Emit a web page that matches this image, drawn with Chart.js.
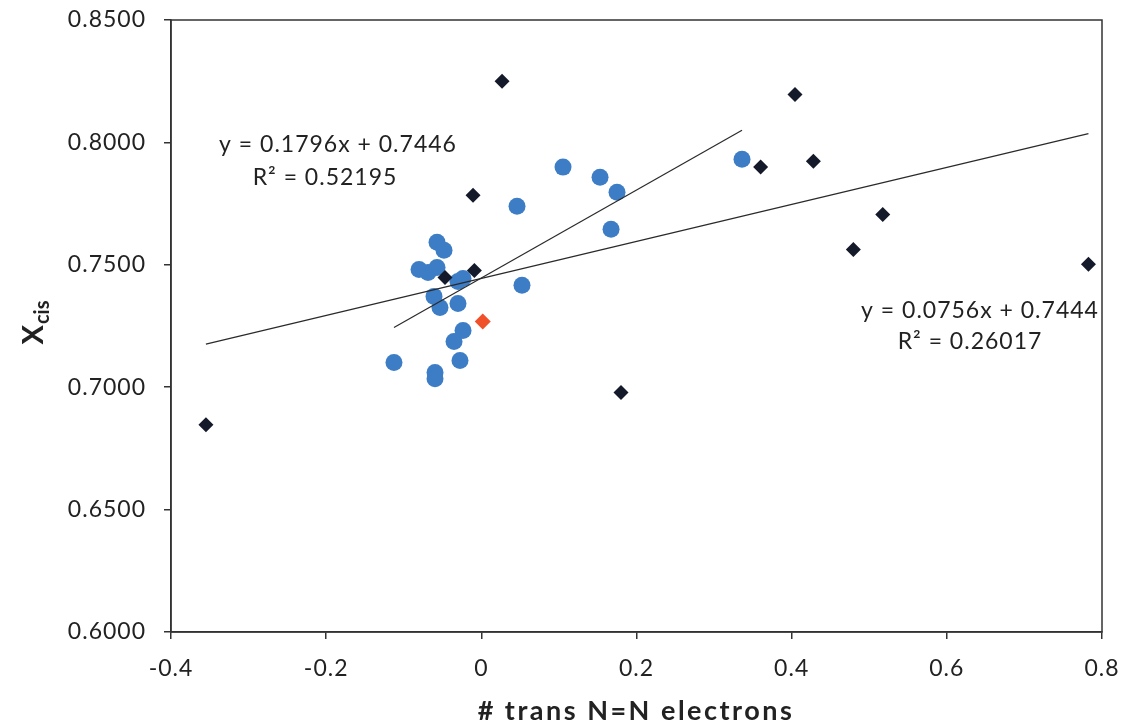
<!DOCTYPE html>
<html>
<head>
<meta charset="utf-8">
<script src="https://cdn.jsdelivr.net/npm/chart.js@4/dist/chart.umd.min.js"></script>
<style>
html,body{margin:0;padding:0;background:#fff;}
#wrap{width:1123px;height:727px;position:relative;}
</style>
</head>
<body>
<div id="wrap"><canvas id="c" width="1123" height="727"></canvas></div>
<script>
// ---- data ----
const blackX = [-0.355, 0.0267, -0.0107, -0.009, -0.0468, 0.360, 0.4043, 0.428, 0.4795, 0.5174, 0.7825, 0.180];
const blackY = [0.6847, 0.8250, 0.7784, 0.7477, 0.7448, 0.7900, 0.8196, 0.7923, 0.7563, 0.7705, 0.7502, 0.6978];
const redX = [0.0018];
const redY = [0.7268];
const blueX = [-0.0571, -0.0481, -0.0803, -0.0687, -0.0571, -0.0301, -0.0236, -0.0610, -0.0533, -0.0301, 0.0524, -0.0236, -0.0352, -0.0275, -0.1126, -0.0597, -0.0597, 0.0460, 0.1053, 0.1530, 0.1749, 0.1672, 0.3360];
const blueY = [0.7592, 0.7559, 0.7481, 0.7469, 0.7489, 0.7432, 0.7444, 0.7371, 0.7326, 0.7342, 0.7416, 0.7232, 0.7187, 0.7109, 0.7101, 0.7060, 0.7035, 0.7739, 0.7899, 0.7858, 0.7796, 0.7645, 0.7931];
const blueFit = {slope: 0.1796, intercept: 0.7446, label1: "y = 0.1796x + 0.7446", label2: "R² = 0.52195"};
const blackFit = {slope: 0.0756, intercept: 0.7444, label1: "y = 0.0756x + 0.7444", label2: "R² = 0.26017"};
const xTicks = [-0.4, -0.2, 0, 0.2, 0.4, 0.6, 0.8];
const yTicks = [0.60, 0.65, 0.70, 0.75, 0.80, 0.85];
const xTitle = "# trans N=N electrons";
const yTitleMain = "X";
const yTitleSub = "cis";

const pts = (xs, ys) => xs.map((x, i) => ({x: x, y: ys[i]}));
const fitLine = (f, xs) => {
  const a = Math.min(...xs), b = Math.max(...xs);
  return [{x: a, y: f.slope * a + f.intercept}, {x: b, y: f.slope * b + f.intercept}];
};

const FONT = "Lato, 'Open Sans', sans-serif";
const LEFT = 171;

const decor = {
  id: 'decor',
  beforeInit(chart) { chart.ctx.letterSpacing = '1px'; },
  beforeDraw(chart) { chart.ctx.letterSpacing = '1px'; },
  afterDatasetsDraw(chart) {
    const ctx = chart.ctx, ca = chart.chartArea;
    ctx.save();
    ctx.strokeStyle = '#333';
    ctx.lineWidth = 1.5;
    ctx.strokeRect(ca.left, ca.top, ca.right - ca.left, ca.bottom - ca.top);
    ctx.restore();
  },
  afterDraw(chart) {
    const ctx = chart.ctx;
    ctx.save();
    ctx.fillStyle = '#222';
    ctx.letterSpacing = '1px';
    ctx.font = "23px " + FONT;
    ctx.textAlign = 'center';
    ctx.textBaseline = 'middle';
    ctx.fillText(blueFit.label1, 338, 145);
    ctx.fillText(blueFit.label2, 325, 178);
    ctx.fillText(blackFit.label1, 980, 311);
    ctx.fillText(blackFit.label2, 970, 342);
    ctx.letterSpacing = '2.5px';
    ctx.font = "bold 27px " + FONT;
    ctx.fillText(xTitle, 636, 711);
    ctx.letterSpacing = '0px';
    ctx.translate(33, 323);
    ctx.rotate(-Math.PI / 2);
    ctx.font = "bold 29px " + FONT;
    const w1 = ctx.measureText(yTitleMain).width;
    ctx.font = "bold 20px " + FONT;
    const w2 = ctx.measureText(yTitleSub).width;
    const start = -(w1 + w2) / 2;
    ctx.textAlign = 'left';
    ctx.textBaseline = 'alphabetic';
    ctx.font = "bold 29px " + FONT;
    ctx.fillText(yTitleMain, start, 10);
    ctx.font = "bold 20px " + FONT;
    ctx.fillText(yTitleSub, start + w1 + 1, 16);
    ctx.restore();
  }
};

const zeroPad = s => { s.paddingTop = 0; s.paddingBottom = 0; s.paddingLeft = 0; s.paddingRight = 0; };

new Chart(document.getElementById('c'), {
  type: 'scatter',
  data: {
    datasets: [
      {label: 'fit blue', data: fitLine(blueFit, blueX), showLine: true, pointRadius: 0, borderColor: '#2a2a2a', borderWidth: 1.2, order: 0},
      {label: 'fit black', data: fitLine(blackFit, blackX), showLine: true, pointRadius: 0, borderColor: '#2a2a2a', borderWidth: 1.2, order: 0},
      {label: 'blue', data: pts(blueX, blueY), pointStyle: 'circle', pointRadius: 8.5, backgroundColor: '#3d7dc6', borderColor: '#3d7dc6', borderWidth: 0, order: 2},
      {label: 'black', data: pts(blackX, blackY), pointStyle: 'rectRot', pointRadius: 7.5, backgroundColor: '#141a2a', borderColor: '#141a2a', borderWidth: 0, order: 1},
      {label: 'red', data: pts(redX, redY), pointStyle: 'rectRot', pointRadius: 8, backgroundColor: '#f0502a', borderColor: '#f0502a', borderWidth: 0, order: 1}
    ]
  },
  options: {
    responsive: false,
    animation: false,
    events: [],
    layout: {padding: {top: 20, right: 21, left: 0, bottom: 0}},
    plugins: {legend: {display: false}, tooltip: {enabled: false}},
    scales: {
      x: {
        type: 'linear', min: -0.4, max: 0.8,
        afterBuildTicks(s) { s.ticks = xTicks.map(v => ({value: v})); },
        afterFit(s) { s.height = 95; zeroPad(s); },
        grid: {drawOnChartArea: false, drawTicks: true, tickLength: 7, color: '#333', lineWidth: 1.5},
        border: {display: true, color: '#333', width: 1.5},
        ticks: {color: '#222', font: {family: FONT, size: 23}, padding: 16,
          callback: v => (Math.abs(v) < 1e-9 ? '0' : String(Math.round(v * 10) / 10))}
      },
      y: {
        type: 'linear', min: 0.6, max: 0.85,
        afterBuildTicks(s) { s.ticks = yTicks.map(v => ({value: v})); },
        afterFit(s) { s.width = LEFT; zeroPad(s); },
        grid: {drawOnChartArea: false, drawTicks: true, tickLength: 7, color: '#333', lineWidth: 1.5},
        border: {display: true, color: '#333', width: 1.5},
        ticks: {color: '#222', font: {family: FONT, size: 23}, padding: 18,
          callback: v => v.toFixed(4)}
      }
    }
  },
  plugins: [decor]
});
</script>
</body>
</html>
